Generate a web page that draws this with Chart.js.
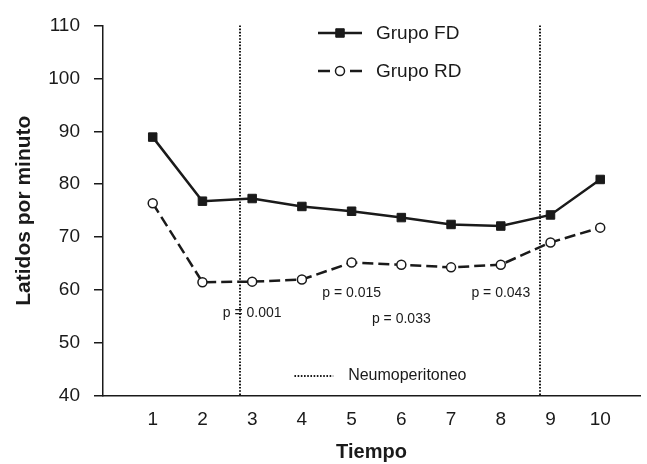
<!DOCTYPE html>
<html><head><meta charset="utf-8">
<script src="https://cdn.jsdelivr.net/npm/chart.js@4"></script>
<style>html,body{margin:0;padding:0;background:#fff}#wrap{width:647px;height:464px}</style>
</head><body><div id="wrap"><canvas id="c" width="647" height="464"></canvas></div>
<script>
// ---- data ----
const timepoints = [1, 2, 3, 4, 5, 6, 7, 8, 9, 10];
const grupoFD = [88.9, 76.8, 77.3, 75.8, 74.9, 73.7, 72.4, 72.1, 74.2, 80.9];
const grupoRD = [76.4, 61.5, 61.6, 62.0, 65.2, 64.8, 64.3, 64.8, 69.0, 71.8];
const yTickValues = [40, 50, 60, 70, 80, 90, 100, 110];
const xTickLabels = ['1', '2', '3', '4', '5', '6', '7', '8', '9', '10'];
const neumoperitoneoAt = [2.76, 8.78];
const pTimes = [3, 5, 6, 8];
const pTexts = ['p = 0.001', 'p = 0.015', 'p = 0.033', 'p = 0.043'];
const pLevels = [55.7, 59.4, 54.6, 59.4];

const FONT = '"Liberation Sans", Arial, Helvetica, sans-serif';
const INK = '#1a1a1a';

const overlay = {
  id: 'overlay',
  afterDatasetsDraw(chart) {
    const { ctx, chartArea, scales: { x, y } } = chart;
    ctx.save();
    // dotted vertical lines
    ctx.strokeStyle = INK;
    ctx.lineWidth = 2;
    ctx.setLineDash([1.6, 1.6]);
    neumoperitoneoAt.forEach(v => {
      const px = Math.round(x.getPixelForValue(v));
      ctx.beginPath();
      ctx.moveTo(px, chartArea.top);
      ctx.lineTo(px, chartArea.bottom);
      ctx.stroke();
    });
    // neumoperitoneo key
    const ky = Math.round(y.getPixelForValue(43.7));
    ctx.beginPath();
    ctx.moveTo(x.getPixelForValue(3.85), ky);
    ctx.lineTo(x.getPixelForValue(4.63), ky);
    ctx.stroke();
    ctx.setLineDash([]);
    ctx.fillStyle = INK;
    ctx.font = '16px ' + FONT;
    ctx.textBaseline = 'middle';
    ctx.textAlign = 'left';
    ctx.fillText('Neumoperitoneo', x.getPixelForValue(4.93), ky);
    // p values
    ctx.font = '14px ' + FONT;
    ctx.textAlign = 'center';
    pTimes.forEach((t, i) => {
      ctx.fillText(pTexts[i], x.getPixelForValue(t), y.getPixelForValue(pLevels[i]));
    });
    // legend
    const rows = [
      { ds: chart.data.datasets[0], y: 33 },
      { ds: chart.data.datasets[1], y: 71 }
    ];
    const x0 = 318, x1 = 362, xm = 340;
    rows.forEach((r, i) => {
      ctx.strokeStyle = INK;
      ctx.lineWidth = 2.5;
      ctx.beginPath();
      if (i === 0) {
        ctx.moveTo(x0, r.y); ctx.lineTo(x1, r.y);
      } else {
        ctx.moveTo(x0, r.y); ctx.lineTo(x0 + 12, r.y);
        ctx.moveTo(x1 - 12, r.y); ctx.lineTo(x1, r.y);
      }
      ctx.stroke();
      ctx.fillStyle = r.ds.pointBackgroundColor;
      ctx.strokeStyle = INK;
      ctx.lineWidth = r.ds.pointBorderWidth;
      ctx.beginPath();
      if (r.ds.pointStyle === 'rect') {
        const s = Math.SQRT1_2 * r.ds.pointRadius;
        ctx.rect(xm - s, r.y - s, 2 * s, 2 * s);
      } else {
        ctx.arc(xm, r.y, r.ds.pointRadius, 0, Math.PI * 2);
      }
      ctx.fill();
      ctx.stroke();
      ctx.fillStyle = INK;
      ctx.font = '19px ' + FONT;
      ctx.textAlign = 'left';
      ctx.fillText(r.ds.label, 376, r.y + 1);
    });
    ctx.restore();
  }
};

new Chart(document.getElementById('c'), {
  type: 'line',
  data: {
    datasets: [
      {
        label: 'Grupo FD',
        data: timepoints.map((t, i) => ({ x: t, y: grupoFD[i] })),
        borderColor: INK,
        borderWidth: 2.5,
        pointStyle: 'rect',
        pointRadius: 6,
        pointBackgroundColor: INK,
        pointBorderColor: INK,
        pointBorderWidth: 1,
        tension: 0
      },
      {
        label: 'Grupo RD',
        data: timepoints.map((t, i) => ({ x: t, y: grupoRD[i] })),
        borderColor: INK,
        borderWidth: 2.5,
        borderDash: [11, 5],
        pointStyle: 'circle',
        pointRadius: 4.5,
        pointBackgroundColor: '#ffffff',
        pointBorderColor: INK,
        pointBorderWidth: 1.5,
        tension: 0
      }
    ]
  },
  options: {
    responsive: false,
    devicePixelRatio: 1,
    animation: false,
    layout: { padding: { top: 25, right: 7, left: 0, bottom: 0 } },
    plugins: { legend: { display: false }, tooltip: { enabled: false } },
    scales: {
      x: {
        type: 'linear',
        min: 0,
        max: 10.8,
        afterFit: s => { s.height = 68; },
        afterBuildTicks: s => { s.ticks = timepoints.map(v => ({ value: v })); },
        ticks: {
          autoSkip: false,
          maxRotation: 0,
          padding: 12,
          color: INK,
          font: { family: FONT, size: 19 },
          callback: (v) => xTickLabels[timepoints.indexOf(v)] ?? ''
        },
        grid: { display: false, drawTicks: false },
        border: { display: true, color: INK, width: 1.5 },
        title: {
          display: true,
          text: 'Tiempo',
          color: INK,
          font: { family: FONT, size: 20, weight: 'bold' },
          padding: { top: 6, bottom: 0 }
        }
      },
      y: {
        min: 40,
        max: 110,
        afterFit: s => { s.width = 103; },
        afterBuildTicks: s => { s.ticks = yTickValues.map(v => ({ value: v })); },
        ticks: {
          padding: 14,
          color: INK,
          font: { family: FONT, size: 19 }
        },
        grid: { drawOnChartArea: false, drawTicks: true, tickLength: 9, color: INK, lineWidth: 1.5 },
        border: { display: true, color: INK, width: 1.5 },
        title: {
          display: true,
          text: 'Latidos por minuto',
          color: INK,
          font: { family: FONT, size: 21, weight: 'bold' },
          padding: { top: 12, bottom: 0 }
        }
      }
    }
  },
  plugins: [overlay]
});
</script>
</body></html>
